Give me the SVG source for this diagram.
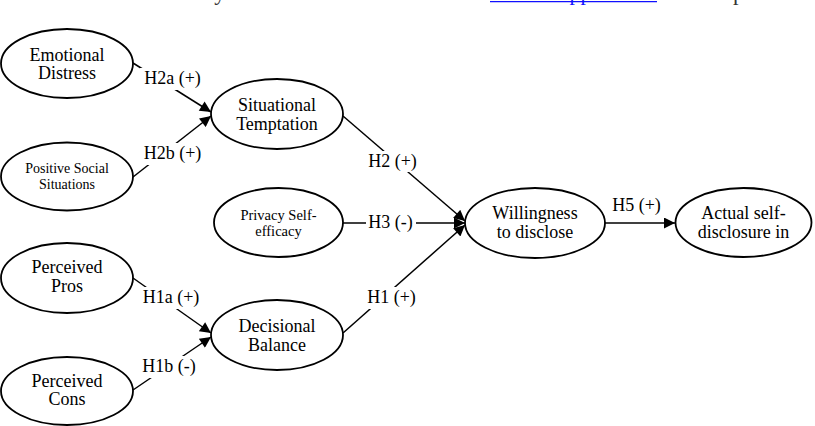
<svg xmlns="http://www.w3.org/2000/svg" width="815" height="426" viewBox="0 0 815 426">
<style>
.bg{fill:#fff}
.node ellipse{fill:#fff;stroke:#000;stroke-width:1.8}
.t{font-family:"Liberation Serif","Times New Roman",serif;fill:#000;text-anchor:middle}
.big{font-size:18px}
.small{font-size:14px}
.lab{font-family:"Liberation Serif","Times New Roman",serif;font-size:18px;fill:#000;text-anchor:middle}
.conn line{stroke:#000;stroke-width:1.5;fill:none}
.lbg{fill:#fff}
.top{font-family:"Liberation Serif","Times New Roman",serif;font-size:22.5px;fill:#333}
</style>
<defs>
<marker id="arr" viewBox="0 0 10 10" refX="10" refY="5" markerUnits="userSpaceOnUse" markerWidth="13" markerHeight="11" orient="auto">
<path d="M0,0 L10,5 L0,10 z" fill="#000"/>
</marker>
</defs>
<rect class="bg" x="0" y="0" width="815" height="426"/>
<g id="header-fragment">
<text class="top" x="486" y="0" text-anchor="end">measurements for each study construct are included in the</text>
<text class="top" x="490" y="0" textLength="167" lengthAdjust="spacingAndGlyphs" style="fill:#1010ff">Online Appendices</text>
<line x1="490" y1="1.6" x2="657" y2="1.6" stroke="#1010ff" stroke-width="1.2"/>
<text class="top" x="663" y="0">due to space constraints.</text>
</g>
<g id="connectors" class="conn">
<line x1="133" y1="63" x2="211" y2="112" marker-end="url(#arr)"/>
<line x1="133" y1="177" x2="211" y2="116" marker-end="url(#arr)"/>
<line x1="133" y1="278" x2="211" y2="333" marker-end="url(#arr)"/>
<line x1="133" y1="390" x2="211" y2="337" marker-end="url(#arr)"/>
<line x1="343" y1="116" x2="465" y2="221" marker-end="url(#arr)"/>
<line x1="343" y1="223" x2="465" y2="223" marker-end="url(#arr)"/>
<line x1="343" y1="333" x2="465" y2="225" marker-end="url(#arr)"/>
<line x1="605" y1="223" x2="675" y2="223" marker-end="url(#arr)"/>
<rect class="lbg" x="140" y="68" width="65" height="22"/>
<text class="lab" x="172.5" y="84">H2a (+)</text>
<rect class="lbg" x="140" y="143" width="65" height="22"/>
<text class="lab" x="172.5" y="159.3">H2b (+)</text>
<rect class="lbg" x="140" y="287" width="62" height="22"/>
<text class="lab" x="171" y="303.3">H1a (+)</text>
<rect class="lbg" x="140" y="356" width="58" height="22"/>
<text class="lab" x="169" y="371.7">H1b (-)</text>
<rect class="lbg" x="366" y="151" width="53" height="21"/>
<text class="lab" x="392.5" y="166.7">H2 (+)</text>
<rect class="lbg" x="366" y="212" width="50" height="22"/>
<text class="lab" x="390.5" y="228.3">H3 (-)</text>
<rect class="lbg" x="366" y="287" width="52" height="22"/>
<text class="lab" x="391.5" y="303.3">H1 (+)</text>
<text class="lab" x="636.5" y="210.7">H5 (+)</text>
</g>
<g id="emotional-distress" class="node">
<ellipse cx="67" cy="63.5" rx="66" ry="34.5"/>
<text class="t big" x="67" y="61">Emotional</text>
<text class="t big" x="67" y="79.3">Distress</text>
</g>
<g id="positive-social-situations" class="node">
<ellipse cx="67" cy="176.5" rx="66" ry="34"/>
<text class="t small" x="67" y="173">Positive Social</text>
<text class="t small" x="67" y="188.5">Situations</text>
</g>
<g id="perceived-pros" class="node">
<ellipse cx="67" cy="278" rx="66" ry="35"/>
<text class="t big" x="67" y="273.3">Perceived</text>
<text class="t big" x="67" y="291.7">Pros</text>
</g>
<g id="perceived-cons" class="node">
<ellipse cx="67" cy="391" rx="66" ry="34"/>
<text class="t big" x="67" y="386.7">Perceived</text>
<text class="t big" x="67" y="405">Cons</text>
</g>
<g id="situational-temptation" class="node">
<ellipse cx="277" cy="114" rx="66" ry="35"/>
<text class="t big" x="277" y="111">Situational</text>
<text class="t big" x="277" y="130">Temptation</text>
</g>
<g id="privacy-self-efficacy" class="node">
<ellipse cx="278.5" cy="222.5" rx="64.5" ry="34.5"/>
<text class="t small" x="278.5" y="220" style="font-size:14.5px">Privacy Self-</text>
<text class="t small" x="278.5" y="235.7" style="font-size:14.5px">efficacy</text>
</g>
<g id="decisional-balance" class="node">
<ellipse cx="277" cy="335" rx="66" ry="35"/>
<text class="t big" x="277" y="331.7">Decisional</text>
<text class="t big" x="277" y="350.7">Balance</text>
</g>
<g id="willingness-to-disclose" class="node">
<ellipse cx="535" cy="223" rx="70" ry="35"/>
<text class="t big" x="535" y="219.3">Willingness</text>
<text class="t big" x="535" y="237.7">to disclose</text>
</g>
<g id="actual-self-disclosure" class="node">
<ellipse cx="743.5" cy="222.5" rx="68" ry="34.5"/>
<text class="t big" x="743.5" y="219">Actual self-</text>
<text class="t big" x="743.5" y="237.7">disclosure in</text>
</g>
</svg>
